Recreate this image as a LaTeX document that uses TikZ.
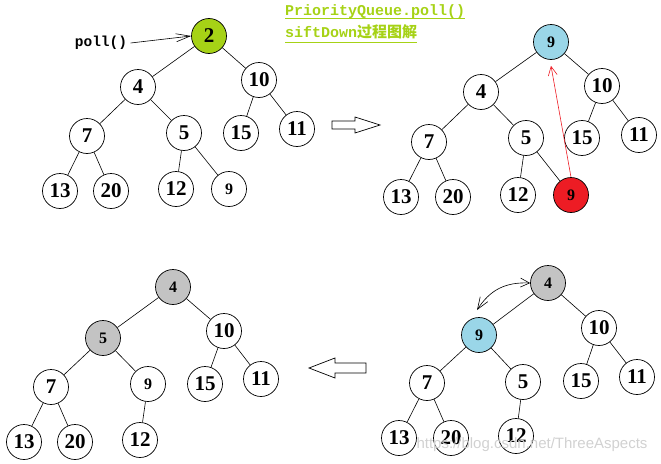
\documentclass[tikz,border=0pt]{standalone}
\usepackage{fontspec}
\setmainfont{Liberation Serif}
\newfontfamily\monofont{Liberation Mono}
\newfontfamily\cjk{Noto Sans CJK SC}
\newfontfamily\wmfont{Liberation Sans}
\usetikzlibrary{arrows.meta}
\definecolor{titlegreen}{HTML}{A6D216}
\definecolor{rootblue}{HTML}{9AD6E8}
\definecolor{movedred}{HTML}{ED1C24}
\definecolor{donegray}{HTML}{C3C3C3}

\begin{document}
\begin{tikzpicture}[
  x=1pt, y=-1pt,
  nd/.style={circle, draw=black, fill=white, line width=0.7pt, minimum size=35pt,
             inner sep=0pt, font=\fontsize{21}{21}\selectfont\bfseries},
  sm/.style={nd, font=\fontsize{16}{16}\selectfont\bfseries},
  edge/.style={line width=0.6pt},
  hollow/.style={draw=black, fill=white, line width=0.7pt},
  ttl/.style={anchor=west, inner sep=0pt, text=titlegreen,
              font=\fontsize{15}{15}\selectfont\monofont\bfseries},
]
\useasboundingbox (0,0) rectangle (661,463);

%% --- Title ---
\node[ttl] (t1) at (285,12) {PriorityQueue.poll()};
\node[ttl] (t2) at (285,32) {siftDown{\cjk 过程图解}};
\draw[titlegreen, line width=1pt] ([yshift=-3pt]t1.base west) -- ([yshift=-3pt]t1.base east);
\draw[titlegreen, line width=1pt] ([yshift=-5pt]t2.base west) -- ([yshift=-5pt]t2.base east);

%% --- Tree 1: poll() takes the root ---
\node[nd, fill=titlegreen] (a2) at (209,36) {2};
\node[nd] (a4) at (138,87) {4};
\node[nd] (a10) at (259,80) {10};
\node[nd] (a7) at (87,136) {7};
\node[nd] (a5) at (184,133) {5};
\node[nd] (a15) at (241,133) {15};
\node[nd] (a11) at (297,129) {11};
\node[nd] (a13) at (60,191) {13};
\node[nd] (a20) at (111,191) {20};
\node[nd] (a12) at (176,189) {12};
\node[sm] (a9) at (229,189) {9};
\draw[edge] (a2) -- (a4);  \draw[edge] (a2) -- (a10);
\draw[edge] (a4) -- (a7);  \draw[edge] (a4) -- (a5);
\draw[edge] (a10) -- (a15); \draw[edge] (a10) -- (a11);
\draw[edge] (a7) -- (a13); \draw[edge] (a7) -- (a20);
\draw[edge] (a5) -- (a12); \draw[edge] (a5) -- (a9);

\node[font=\fontsize{14.5}{14.5}\selectfont\monofont\bfseries] (poll) at (101,43) {poll()};
\draw[line width=0.6pt, -{Straight Barb[length=14pt,width=8pt]}] (poll.east) -- (a2.west);

%% --- Arrow to tree 2 ---
\draw[hollow] (332,121) -- (355,121) -- (355,117) -- (380,125) -- (355,133)
  -- (355,129) -- (332,129) -- cycle;

%% --- Tree 2: last element moved to root ---
\node[sm, fill=rootblue] (b9) at (551,42) {9};
\node[nd] (b4) at (481,92) {4};
\node[nd] (b10) at (602,86) {10};
\node[nd] (b7) at (429,142) {7};
\node[nd] (b5) at (526,138) {5};
\node[nd] (b15) at (582,138) {15};
\node[nd] (b11) at (639,135) {11};
\node[nd] (b13) at (401,197) {13};
\node[nd] (b20) at (453,197) {20};
\node[nd] (b12) at (518,195) {12};
\node[sm, fill=movedred] (bx) at (571,195) {9};
\draw[edge] (b9) -- (b4);  \draw[edge] (b9) -- (b10);
\draw[edge] (b4) -- (b7);  \draw[edge] (b4) -- (b5);
\draw[edge] (b10) -- (b15); \draw[edge] (b10) -- (b11);
\draw[edge] (b7) -- (b13); \draw[edge] (b7) -- (b20);
\draw[edge] (b5) -- (b12); \draw[edge] (b5) -- (bx);
\draw[movedred, line width=0.6pt, -{Straight Barb[length=9pt,width=9pt]}]
  (bx.north) -- ([yshift=-6pt]b9.south);

%% --- Tree 4 (bottom right): swap 9 and 4 ---
\node[sm, fill=donegray] (c4) at (548,283) {4};
\node[sm, fill=rootblue] (c9) at (479,335) {9};
\node[nd] (c10) at (599,328) {10};
\node[nd] (c7) at (427,383) {7};
\node[nd] (c5) at (523,382) {5};
\node[nd] (c15) at (581,381) {15};
\node[nd] (c11) at (637,377) {11};
\node[nd] (c13) at (399,438) {13};
\node[nd] (c20) at (451,438) {20};
\node[nd] (c12) at (516,436) {12};
\draw[edge] (c4) -- (c9);  \draw[edge] (c4) -- (c10);
\draw[edge] (c9) -- (c7);  \draw[edge] (c9) -- (c5);
\draw[edge] (c10) -- (c15); \draw[edge] (c10) -- (c11);
\draw[edge] (c7) -- (c13); \draw[edge] (c7) -- (c20);
\draw[edge] (c5) -- (c12);
\draw[line width=0.6pt, {Straight Barb[length=9pt,width=9pt]}-{Straight Barb[length=12pt,width=9pt]}]
  (c4.west) .. controls (505,282) and (490,290) .. (477,310);

%% --- Arrow to tree 3 ---
\draw[hollow] (366,363) -- (335,363) -- (335,358) -- (309,368) -- (335,378)
  -- (335,373) -- (366,373) -- cycle;

%% --- Tree 3 (bottom left): after siftDown ---
\node[sm, fill=donegray] (d4) at (173,287) {4};
\node[sm, fill=donegray] (d5) at (103,338) {5};
\node[nd] (d10) at (224,331) {10};
\node[nd] (d7) at (51,387) {7};
\node[sm] (d9) at (148,384) {9};
\node[nd] (d15) at (205,384) {15};
\node[nd] (d11) at (261,379) {11};
\node[nd] (d13) at (24,442) {13};
\node[nd] (d20) at (75,442) {20};
\node[nd] (d12) at (140,440) {12};
\draw[edge] (d4) -- (d5);  \draw[edge] (d4) -- (d10);
\draw[edge] (d5) -- (d7);  \draw[edge] (d5) -- (d9);
\draw[edge] (d10) -- (d15); \draw[edge] (d10) -- (d11);
\draw[edge] (d7) -- (d13); \draw[edge] (d7) -- (d20);
\draw[edge] (d9) -- (d12);

%% --- Watermark ---
\node[text=black!18, font=\fontsize{15}{15}\selectfont\wmfont] (wm) at (532,445) {https://blog.csdn.net/ThreeAspects};
\end{tikzpicture}
\end{document}
